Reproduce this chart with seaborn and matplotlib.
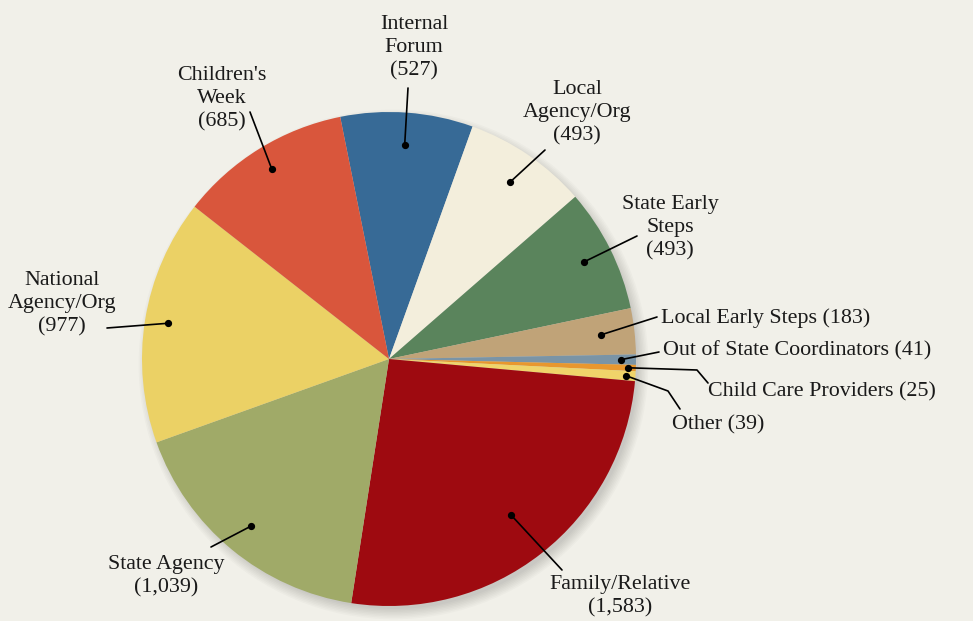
import numpy as np
import matplotlib
matplotlib.use("Agg")
import matplotlib.pyplot as plt
import seaborn as sns

# ---- data ----
categories = ["Internal Forum", "Local Agency/Org", "State Early Steps", "Local Early Steps",
              "Out of State Coordinators", "Child Care Providers", "Other", "Family/Relative",
              "State Agency", "National Agency/Org", "Children's Week"]
values = [527, 493, 493, 183, 41, 25, 39, 1583, 1039, 977, 685]
label_lines = ["Internal\nForum", "Local\nAgency/Org", "State Early\nSteps", "Local Early Steps",
               "Out of State Coordinators", "Child Care Providers", "Other", "Family/Relative",
               "State Agency", "National\nAgency/Org", "Children's\nWeek"]
value_on_new_line = [True, True, True, False, False, False, False, True, True, True, True]
colors = ["#376a96", "#f3eedc", "#5a845c", "#c0a378", "#7a94a6", "#e8972e", "#f0d46a",
          "#9e0a10", "#a0aa68", "#ebd165", "#d9563c"]

# ---- layout (pixel space of a 973x621 canvas) ----
CX, CY, R = 389.0, 359.0, 247.0
W, H = 973, 621
def X(px): return (px - CX) / R
def Y(py): return (CY - py) / R

# text anchor (px), horizontal alignment, dot radius fraction, extra leader points (px)
layout = [
    ((414, 48), "center", 0.87, [(408, 88)]),
    ((577, 113), "center", 0.866, [(545, 150)]),
    ((670, 228), "center", 0.88, [(637, 236)]),
    ((661, 318), "left", 0.862, [(657, 317)]),
    ((663, 351), "left", 0.94, [(659, 352)]),
    ((708, 392), "left", 0.97, [(697, 370), (708, 383)]),
    ((672, 425), "left", 0.96, [(668, 391), (680, 409)]),
    ((620, 596), "center", 0.80, [(562, 570)]),
    ((166, 576), "center", 0.877, [(211, 547)]),
    ((62, 304), "center", 0.907, [(107, 328)]),
    ((222, 99), "center", 0.905, [(250, 112)]),
]

sns.set_theme(style="white")
plt.rcParams['font.family'] = ['Liberation Serif', 'DejaVu Serif']
bg = "#f1f0e9"

fig = plt.figure(figsize=(W / 100, H / 100), dpi=100, facecolor=bg)
ax = fig.add_axes([0, 0, 1, 1])
ax.set_facecolor(bg)

# soft shadow (offset to lower right)
for k in range(8):
    ax.add_patch(plt.Circle((0.018, -0.022), 0.99 + 0.006 * k, color="black",
                            alpha=0.02, lw=0, zorder=0))

start = 90 + 11.4
wedges, _ = ax.pie(values, colors=colors, startangle=start, counterclock=False,
                   radius=1.0, wedgeprops=dict(linewidth=0, zorder=2))

for w, txt, val, nl, (tpos, ha, rf, pts) in zip(wedges, label_lines, values,
                                                 value_on_new_line, layout):
    mid = np.deg2rad((w.theta1 + w.theta2) / 2)
    dx, dy = rf * np.cos(mid), rf * np.sin(mid)
    path_x = [dx] + [X(p[0]) for p in pts]
    path_y = [dy] + [Y(p[1]) for p in pts]
    ax.plot(path_x, path_y, color="black", lw=1.2, zorder=4, solid_capstyle="round")
    ax.plot([dx], [dy], "o", color="black", ms=4.2, zorder=5)
    s = f"{txt}\n({val:,})" if nl else f"{txt} ({val:,})"
    ax.text(X(tpos[0]), Y(tpos[1]), s, ha=ha, va="center", fontsize=15.8,
            color="#1a1a1a", linespacing=1.3, zorder=6, multialignment="center")

ax.set_xlim(X(0), X(W))
ax.set_ylim(Y(H), Y(0))
ax.set_aspect("auto")
ax.axis("off")
fig.savefig("out.png", dpi=100, facecolor=bg)
